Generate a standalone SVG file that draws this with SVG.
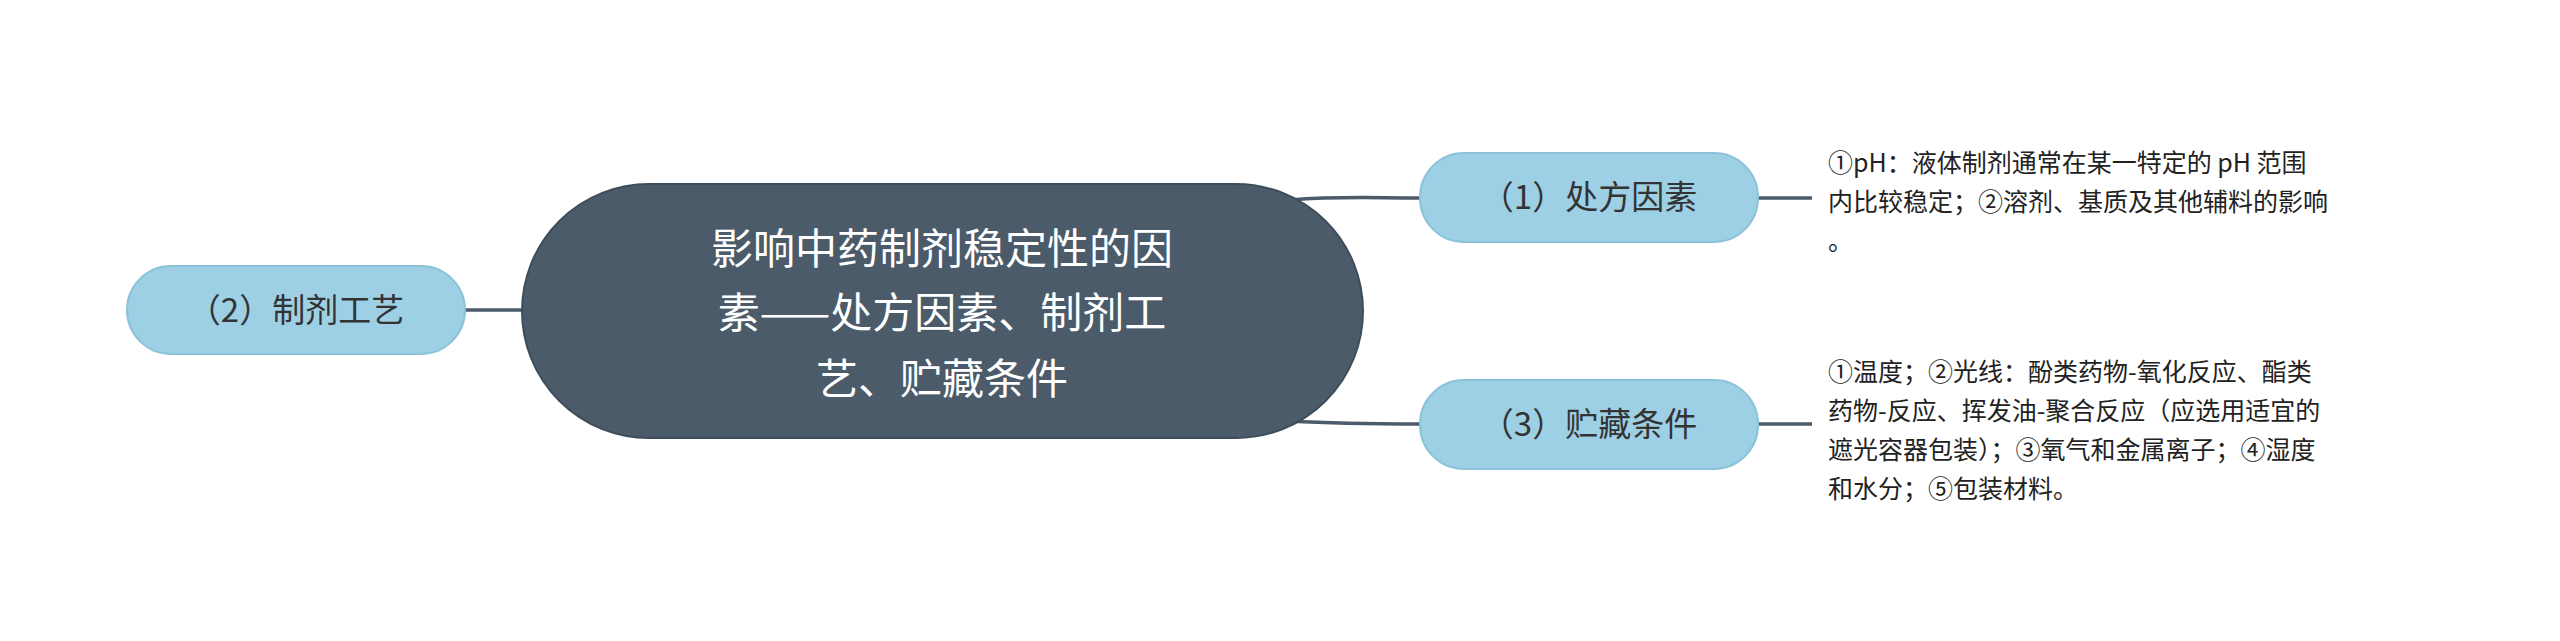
<svg xmlns="http://www.w3.org/2000/svg" width="2560" height="641" viewBox="0 0 2560 641">
<style>
.c{fill:#4b5b6a;stroke:#3e4d5a;stroke-width:2}
.s{fill:#9dd0e5;stroke:#8cc3da;stroke-width:2}
.ct{font-family:"Noto Sans CJK SC","Noto Sans",sans-serif;font-size:42px;fill:#fff;text-anchor:middle}
.st{font-family:"Noto Sans CJK SC","Noto Sans",sans-serif;font-size:33px;fill:#333;text-anchor:middle}
.nt{font-family:"Noto Sans CJK SC","Noto Sans",sans-serif;font-size:25px;fill:#222}
.l{fill:none;stroke:#4b5b6a;stroke-width:3.5}
</style>
<rect width="2560" height="641" fill="#fff"/>
<g id="connectors">
<path class="l" d="M465 310 H524"/>
<path class="l" d="M1290 200 C1340 196 1370 198 1420 198"/>
<path class="l" d="M1290 421 C1340 424 1370 424 1420 424"/>
<path class="l" d="M1758 198 H1812"/>
<path class="l" d="M1758 424 H1812"/>
</g>
<g id="center">
<rect class="c" x="522" y="184" width="841" height="254" rx="127"/>
<text class="ct" x="942" y="264">影响中药制剂稳定性的因</text>
<text class="ct" x="942" y="328">素——处方因素、制剂工</text>
<text class="ct" x="942" y="394">艺、贮藏条件</text>
</g>
<g id="n2">
<rect class="s" x="127" y="266" width="338" height="88" rx="44"/>
<text class="st" x="296" y="322">（2）制剂工艺</text>
</g>
<g id="n1">
<rect class="s" x="1420" y="153" width="338" height="89" rx="44"/>
<text class="st" x="1589" y="209">（1）处方因素</text>
</g>
<g id="n3">
<rect class="s" x="1420" y="380" width="338" height="89" rx="44"/>
<text class="st" x="1589" y="436">（3）贮藏条件</text>
</g>
<g id="t1">
<text class="nt" x="1828" y="172">①pH：液体制剂通常在某一特定的 pH 范围</text>
<text class="nt" x="1828" y="211">内比较稳定；②溶剂、基质及其他辅料的影响</text>
<text class="nt" x="1828" y="250">。</text>
</g>
<g id="t3">
<text class="nt" x="1828" y="381">①温度；②光线：酚类药物-氧化反应、酯类</text>
<text class="nt" x="1828" y="420">药物-反应、挥发油-聚合反应（应选用适宜的</text>
<text class="nt" x="1828" y="459">遮光容器包装）；③氧气和金属离子；④湿度</text>
<text class="nt" x="1828" y="498">和水分；⑤包装材料。</text>
</g>
</svg>
